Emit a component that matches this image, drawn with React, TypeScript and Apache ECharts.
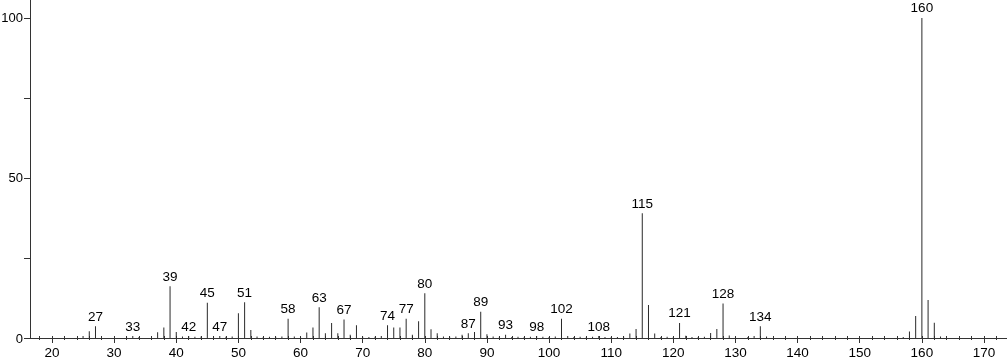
import React, { useEffect, useRef } from 'react';
import * as echarts from 'echarts';

const mz = [
  25, 26, 27, 32, 33, 34, 37, 38, 39, 40, 41, 42, 43, 44, 45, 46, 47, 48, 49, 50,
  51, 52, 53, 54, 55, 56, 57, 58, 59, 60, 61, 62, 63, 64, 65, 66, 67, 68, 69, 70,
  71, 72, 73, 74, 75, 76, 77, 78, 79, 80, 81, 82, 83, 84, 85, 86, 87, 88, 89, 90,
  91, 92, 93, 94, 95, 96, 97, 98, 99, 100, 101, 102, 103, 104, 105, 106, 107, 108, 109, 110,
  111, 112, 113, 114, 115, 116, 117, 118, 119, 120, 121, 122, 123, 124, 125, 126, 127, 128, 129, 130,
  132, 133, 134, 135, 157, 158, 159, 160, 161, 162, 163,
];
const intensity = [
  0.6, 2.1, 3.7, 0.4, 0.6, 0.3, 1.8, 3.3, 16.2, 1.9, 0.5, 0.6, 0.4, 0.5, 11.0, 0.5, 0.6, 0.4, 0.5, 7.7,
  11.2, 2.5, 0.5, 0.3, 0.4, 0.4, 0.5, 6.0, 0.5, 0.3, 1.7, 3.3, 9.6, 1.5, 4.7, 1.5, 5.8, 1.0, 4.0, 0.4,
  0.3, 0.4, 0.6, 4.0, 3.3, 3.3, 6.0, 1.0, 5.2, 14.0, 2.7, 1.5, 0.5, 0.4, 0.5, 1.0, 1.5, 1.9, 8.2, 1.2,
  0.5, 0.4, 1.0, 0.3, 0.4, 0.3, 0.4, 0.6, 0.4, 0.3, 0.5, 6.0, 0.6, 0.3, 0.4, 0.3, 0.4, 0.6, 0.3, 0.3,
  0.3, 0.5, 1.4, 2.8, 39.0, 10.3, 1.4, 0.3, 0.4, 0.3, 4.7, 0.7, 0.3, 0.3, 0.4, 1.6, 2.8, 10.8, 0.8, 0.3,
  0.3, 0.6, 3.7, 0.5, 0.3, 2.0, 6.9, 100, 11.9, 4.8, 0.5,
];
const labeledPeaks = [27, 33, 39, 42, 45, 47, 51, 58, 63, 67, 74, 77, 80, 87, 89, 93, 98, 102, 108, 115, 121, 128, 134, 160];

const xMajorTicks = [20, 30, 40, 50, 60, 70, 80, 90, 100, 110, 120, 130, 140, 150, 160, 170];
const xMinorTicks = [
  18, 22, 24, 26, 28, 32, 34, 36, 38, 42, 44, 46, 48, 52, 54, 56, 58, 62, 64, 66, 68,
  72, 74, 76, 78, 82, 84, 86, 88, 92, 94, 96, 98, 102, 104, 106, 108, 112, 114, 116, 118,
  122, 124, 126, 128, 132, 134, 136, 138, 142, 144, 146, 148, 152, 154, 156, 158, 162, 164, 166, 168, 172,
];
const yTicks = [0, 25, 50, 75, 100];
const yLabels = [0, 50, 100];

const X_MIN = 16.46;
const X_MAX = 173.7;
const Y_MAX = 105.6;
const FONT = '"Liberation Sans", Arial, Helvetica, sans-serif';
const AXIS_COLOR = '#333';
const TEXT_COLOR = '#000';
const FONT_SIZE = 13.5;

export default function App() {
  const ref = useRef<HTMLDivElement>(null);
  useEffect(() => {
    document.body.style.margin = '0';
    const chart = echarts.init(ref.current!, null, { renderer: 'svg' });
    const data = mz.map((m, i) => ({
      value: [m, intensity[i]],
      label: { show: labeledPeaks.includes(m) },
    }));
    const baseX = { type: 'value', min: X_MIN, max: X_MAX, position: 'bottom', splitLine: { show: false } };
    chart.setOption({
      animation: false,
      grid: { left: 30, right: 0, top: 0, bottom: 24, outerBoundsMode: 'none' },
      xAxis: [
        {
          ...baseX,
          axisLine: { show: true, onZero: false, lineStyle: { color: AXIS_COLOR, width: 1 } },
          axisTick: { show: true, length: 5, customValues: xMajorTicks, lineStyle: { color: AXIS_COLOR } },
          axisLabel: { show: true, margin: 7, customValues: xMajorTicks, fontSize: FONT_SIZE, color: TEXT_COLOR, fontFamily: FONT },
        },
        {
          ...baseX,
          axisLine: { show: false, onZero: false },
          axisTick: { show: true, length: 2, customValues: xMinorTicks, lineStyle: { color: AXIS_COLOR } },
          axisLabel: { show: false },
        },
        {
          ...baseX,
          axisLine: { show: false, onZero: false },
          axisTick: { show: true, inside: true, length: 2, customValues: xMinorTicks.concat(xMajorTicks), lineStyle: { color: AXIS_COLOR } },
          axisLabel: { show: false },
        },
      ],
      yAxis: {
        type: 'value',
        min: 0,
        max: Y_MAX,
        splitLine: { show: false },
        axisLine: { show: true, lineStyle: { color: AXIS_COLOR, width: 1 } },
        axisTick: { show: true, length: 6, customValues: yTicks, lineStyle: { color: AXIS_COLOR } },
        axisLabel: { show: true, margin: 7, customValues: yLabels, fontSize: 13, color: TEXT_COLOR, fontFamily: FONT },
      },
      series: [
        {
          type: 'bar',
          xAxisIndex: 0,
          yAxisIndex: 0,
          barWidth: 1,
          itemStyle: { color: '#2a2a2a' },
          label: {
            position: 'top',
            distance: 3,
            fontSize: FONT_SIZE,
            color: TEXT_COLOR,
            fontFamily: FONT,
            formatter: (p: any) => String(p.value[0]),
          },
          data,
        },
      ],
    });
    return () => chart.dispose();
  }, []);
  return <div ref={ref} style={{ position: 'fixed', left: 0, top: 0, width: 1007, height: 362 }} />;
}
